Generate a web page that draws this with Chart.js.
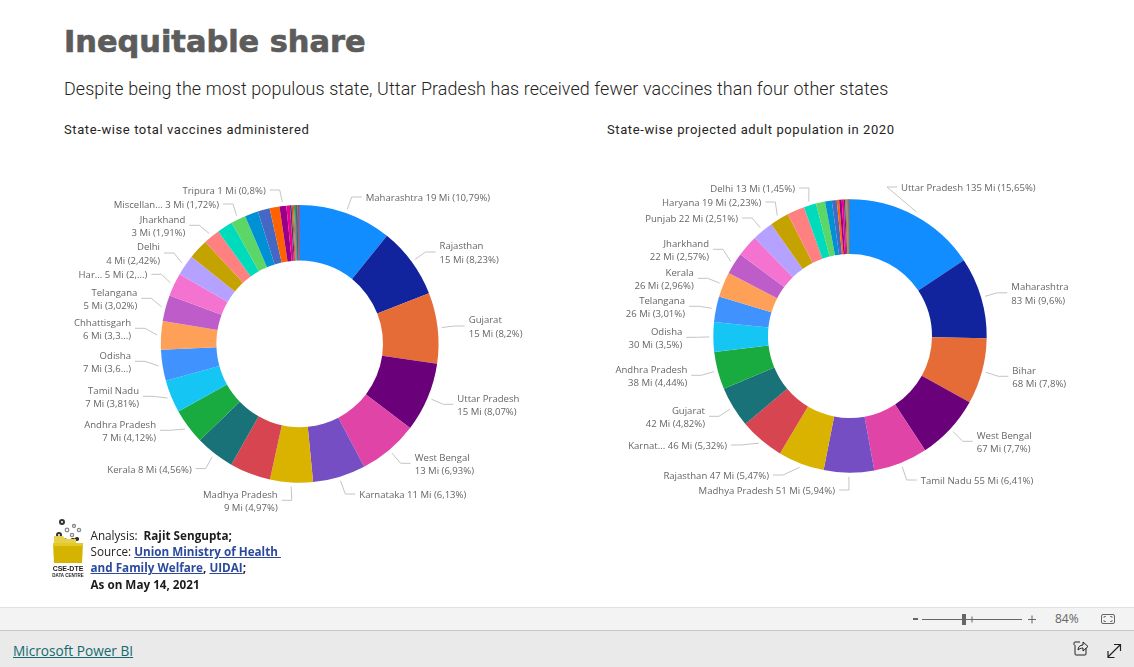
<!DOCTYPE html>
<html><head><meta charset="utf-8">
<script src="https://cdn.jsdelivr.net/npm/chart.js@4"></script>
<style>
html,body{margin:0;padding:0;background:#fff;width:1134px;height:667px;overflow:hidden}
.t{position:absolute;white-space:nowrap}
#title{left:64px;top:22px;font:bold 30.4px "DejaVu Sans";color:#5c5c5c;line-height:40px;-webkit-text-stroke:.7px #5c5c5c}
#sub{left:64px;top:77px;font:300 17.9px Roboto;color:#252423;line-height:24px;letter-spacing:.1px}
.h{top:120.5px;font:400 13px Roboto;color:#252423;line-height:18px;letter-spacing:.6px}
canvas{position:absolute}
#note{left:90.5px;top:527px;font:11.7px "Open Sans";color:#252423;line-height:16.2px}
#note b{color:#1b1b1b}
#note a{color:#2b4a9e;font-weight:bold;text-decoration:underline}
#bar{position:absolute;left:0;top:607px;width:1134px;background:#f3f3f3;border-top:1px solid #e1e1e1;border-bottom:1px solid #c8c8c8;box-sizing:content-box;height:22px}
#foot{position:absolute;left:0;top:631px;width:1134px;height:36px;background:#eaeaea}
#pbi{left:13px;top:642px;font:13.65px "Open Sans";color:#136b6f;text-decoration:underline;line-height:18px}
#pct{left:1055px;top:611px;font:12px "Open Sans";color:#666;line-height:16px}
svg{position:absolute}
</style></head><body>
<div class="t" id="title">Inequitable share</div>
<div class="t" id="sub">Despite being the most populous state, Uttar Pradesh has received fewer vaccines than four other states</div>
<div class="t h" style="left:64px">State-wise total vaccines administered</div>
<div class="t h" style="left:607px">State-wise projected adult population in 2020</div>
<canvas id="c1" style="left:20px;top:150px"></canvas>
<canvas id="c2" style="left:580px;top:150px"></canvas>
<svg style="left:50px;top:514px" width="36" height="66" viewBox="0 0 36 66">
 <g fill="none" stroke="#333" stroke-width="2"><circle cx="12" cy="8" r="2"/><circle cx="9" cy="21" r="2"/></g>
 <g fill="none" stroke="#888" stroke-width="1.3"><circle cx="17" cy="16" r="1.8"/><circle cx="24" cy="12" r="1.5"/><circle cx="22" cy="21" r="1.6"/><circle cx="29" cy="16" r="1.6"/><circle cx="15" cy="26" r="1.4"/></g>
 <g fill="none" stroke="#222" stroke-width="1.8"><circle cx="23" cy="27" r="2"/><circle cx="27" cy="25" r="1.2"/></g>
 <path d="M4 22h9l2 3h11v5H4z" fill="#e7cf4a"/>
 <path d="M3 29h30l-1 20H4z" fill="#d4b400"/>
 <path d="M3 29h30v3H3z" fill="#e4c92a"/>
 <text x="18" y="57" text-anchor="middle" font-family="Liberation Sans Narrow,Liberation Sans" font-weight="bold" font-size="7" fill="#222">CSE-DTE</text>
 <text x="18" y="63" text-anchor="middle" font-family="Liberation Sans Narrow,Liberation Sans" font-weight="bold" font-size="4.5" fill="#222">DATA CENTRE</text>
</svg>
<div class="t" id="note">Analysis:&nbsp; <b>Rajit Sengupta;</b><br>Source: <a>Union Ministry of Health&nbsp;</a><br><a>and Family Welfare</a><b>,</b> <a>UIDAI</a><b>;</b><br><b>As on May 14, 2021</b></div>
<div id="bar"></div><div id="foot"></div>
<div class="t" id="pbi">Microsoft Power BI</div>
<div class="t" id="pct">84%</div>
<svg style="left:900px;top:608px" width="234" height="59" viewBox="0 0 234 59">
 <path d="M13 11h5" stroke="#666" stroke-width="2"/>
 <path d="M22 11.5h100" stroke="#666" stroke-width="1"/>
 <rect x="62" y="6" width="4" height="11" fill="#666"/>
 <path d="M72 8.5v6" stroke="#666"/>
 <path d="M128 11.5h8M132 7.5v8" stroke="#666" stroke-width="1"/>
 <rect x="201.5" y="6.5" width="13" height="9" rx="1.5" fill="none" stroke="#666"/>
 <path d="M204 10v-1.5h2M212 10v-1.5h-2M204 12v1.5h2M212 12v1.5h-2" fill="none" stroke="#666" stroke-width=".8"/>
 <path d="M174 37v-2a1 1 0 011-1h5M186 40v6a1 1 0 01-1 1h-9a1 1 0 01-1-1v-9" fill="none" stroke="#222"/>
 <path d="M178 42c0-3 2-5 5-5v-3l5 4.500-5 4.500v-3c-2 0-4 1-5 2z" fill="none" stroke="#222"/>
 <path d="M208 49l12-12M214 36.500h6.500v6.500M208 43v6.500h6.500" fill="none" stroke="#222" stroke-width="1.2"/>
</svg>
<script>
const palette = ["#118DFF","#12239E","#E66C37","#6B007B","#E044A7","#744EC2","#D9B300","#D64550","#197278","#1AAB40","#15C6F4","#4092FF","#FFA058","#BE5DC9","#F472D0","#B5A1FF","#C4A200","#FF8080","#00DBBC","#5BD667","#0091D5","#4668C5","#FF6300","#99008A","#EC008C","#533285","#99700A","#FF4141","#1F9A85","#25891C","#0057A2","#002050","#C94F0F","#450F54","#B60064","#34124F"];

const leftStates = ["Maharashtra","Rajasthan","Gujarat","Uttar Pradesh","West Bengal","Karnataka","Madhya Pradesh","Bihar","Kerala","Andhra Pradesh","Tamil Nadu","Odisha","Chhattisgarh","Telangana","Haryana","Delhi","Assam","Jharkhand","Punjab","Miscellaneous","Jammu and Kashmir","Uttarakhand","Himachal Pradesh","Tripura","Manipur","Meghalaya","Goa","Nagaland","Arunachal Pradesh","Puducherry","Mizoram","Chandigarh","Sikkim","Ladakh","Andaman and Nicobar","Dadra and Nagar Haveli"];
const leftShares = [10.79,8.23,8.2,8.07,6.93,6.13,4.97,4.75,4.56,4.12,3.81,3.6,3.3,3.02,2.7,2.42,2.3,1.91,1.83,1.72,1.55,1.39,1.14,0.8,0.4,0.2,0.15,0.12,0.11,0.1,0.1,0.09,0.08,0.07,0.06,0.05];
const leftLabels = [["Maharashtra 19 Mi (10,79%)"],["Rajasthan","15 Mi (8,23%)"],["Gujarat","15 Mi (8,2%)"],["Uttar Pradesh","15 Mi (8,07%)"],["West Bengal","13 Mi (6,93%)"],["Karnataka 11 Mi (6,13%)"],["Madhya Pradesh","9 Mi (4,97%)"],null,["Kerala 8 Mi (4,56%)"],["Andhra Pradesh","7 Mi (4,12%)"],["Tamil Nadu","7 Mi (3,81%)"],["Odisha","7 Mi (3,6...)"],["Chhattisgarh","6 Mi (3,3...)"],["Telangana","5 Mi (3,02%)"],["Har... 5 Mi (2,...)"],["Delhi","4 Mi (2,42%)"],null,["Jharkhand","3 Mi (1,91%)"],null,["Miscellan... 3 Mi (1,72%)"],null,null,null,["Tripura 1 Mi (0,8%)"]];
// label anchors on the page: [text edge x, block centre y, side of the text relative to its leader]
const leftAnchors = [[365.7,197.7,"R"],[439.5,252.7,"R"],[468.7,326.7,"R"],[457.3,405,"R"],[414.7,464,"R"],[359.3,494.7,"R"],[277.7,501,"L"],null,[191.7,469.3,"L"],[156,431,"L"],[139,397,"L"],[131,362,"L"],[131,329,"L"],[137.3,299,"L"],[147.3,275,"L"],[160,253.7,"L"],null,[185.3,226,"L"],null,[219,204.7,"L"],null,null,null,[265.7,190.7,"L"]];

const rightStates = ["Uttar Pradesh","Maharashtra","Bihar","West Bengal","Tamil Nadu","Madhya Pradesh","Rajasthan","Karnataka","Gujarat","Andhra Pradesh","Odisha","Telangana","Kerala","Jharkhand","Assam","Punjab","Haryana","Chhattisgarh","Delhi","Jammu and Kashmir","Uttarakhand","Himachal Pradesh","Tripura","Meghalaya","Manipur","Nagaland","Goa","Arunachal Pradesh","Puducherry","Mizoram","Chandigarh","Sikkim","Andaman and Nicobar","Dadra and Nagar Haveli","Daman and Diu","Lakshadweep"];
const rightShares = [15.65,9.6,7.8,7.7,6.41,5.94,5.47,5.32,4.82,4.44,3.5,3.01,2.96,2.57,2.55,2.51,2.23,2.07,1.45,1.08,0.8,0.58,0.28,0.3,0.25,0.16,0.12,0.1,0.09,0.07,0.06,0.05,0.03,0.02,0.01,0.01];
const rightLabels = [["Uttar Pradesh 135 Mi (15,65%)"],["Maharashtra","83 Mi (9,6%)"],["Bihar","68 Mi (7,8%)"],["West Bengal","67 Mi (7,7%)"],["Tamil Nadu 55 Mi (6,41%)"],["Madhya Pradesh 51 Mi (5,94%)"],["Rajasthan 47 Mi (5,47%)"],["Karnat... 46 Mi (5,32%)"],["Gujarat","42 Mi (4,82%)"],["Andhra Pradesh","38 Mi (4,44%)"],["Odisha","30 Mi (3,5%)"],["Telangana","26 Mi (3,01%)"],["Kerala","26 Mi (2,96%)"],["Jharkhand","22 Mi (2,57%)"],null,["Punjab 22 Mi (2,51%)"],["Haryana 19 Mi (2,23%)"],null,["Delhi 13 Mi (1,45%)"]];
const rightAnchors = [[901,187.7,"R"],[1011.3,293.5,"R"],[1012.3,377,"R"],[976.7,442,"R"],[920.7,480.7,"R"],[835,490.7,"L"],[769,475.7,"L"],[727,445.7,"L"],[705,417,"L"],[687.3,376,"L"],[682.3,338,"L"],[685,307,"L"],[693.7,279,"L"],[709,250,"L"],null,[738,218.7,"L"],[761.3,202.7,"L"],null,[795,188.7,"L"]];

const LABEL_FONT = '9.55px "Open Sans"', LABEL_COLOR = "#666", LEADER_COLOR = "#c4c4c4";

const leaderLabels = {
  id:"leaderLabels",
  afterDatasetsDraw(chart, args, opts){
    const ctx = chart.ctx, rect = chart.canvas.getBoundingClientRect();
    chart.getDatasetMeta(0).data.forEach((arc,i)=>{
      const lines = opts.labels[i], anchor = opts.anchors[i];
      if(!lines||!anchor) return;
      const p = arc.getProps(["startAngle","endAngle","outerRadius","x","y"]);
      const a = (p.startAngle+p.endAngle)/2, r = p.outerRadius+4;
      const sx = p.x+Math.cos(a)*r, sy = p.y+Math.sin(a)*r;
      const tx = anchor[0]-rect.left, cy = anchor[1]-rect.top, right = anchor[2]==="R";
      const dir = right?-1:1, ly = cy-0.7;
      ctx.save();
      ctx.strokeStyle = LEADER_COLOR; ctx.lineWidth = 1;
      ctx.beginPath(); ctx.moveTo(sx,sy); ctx.lineTo(tx+dir*14,ly); ctx.lineTo(tx+dir*4,ly); ctx.stroke();
      ctx.font = LABEL_FONT; ctx.fillStyle = LABEL_COLOR;
      ctx.textAlign = right?"left":"right"; ctx.textBaseline = "middle";
      const step = 13.5, y0 = cy+0.6-(lines.length-1)*step/2;
      lines.forEach((s,k)=>ctx.fillText(s,tx,y0+k*step));
      ctx.restore();
    });
  }
};

function donut(id,width,height,shares,states,labels,anchors,padding){
  const cv = document.getElementById(id);
  cv.style.width = width+"px"; cv.style.height = height+"px";
  cv.width = width; cv.height = height;
  return new Chart(cv,{
    type:"doughnut",
    data:{labels:states,datasets:[{data:shares,backgroundColor:palette.slice(0,shares.length),borderWidth:0}]},
    options:{responsive:false,animation:false,cutout:"60%",rotation:0,
      layout:{padding},
      plugins:{legend:{display:false},tooltip:{enabled:false},leaderLabels:{labels,anchors}}},
    plugins:[leaderLabels]
  });
}
donut("c1",560,380,leftShares,leftStates,leftLabels,leftAnchors,{top:55,bottom:47.3,left:0,right:0.6});
donut("c2",554,380,rightShares,rightStates,rightLabels,rightAnchors,{top:49.3,bottom:57.3,left:0,right:14});
</script>
</body></html>
